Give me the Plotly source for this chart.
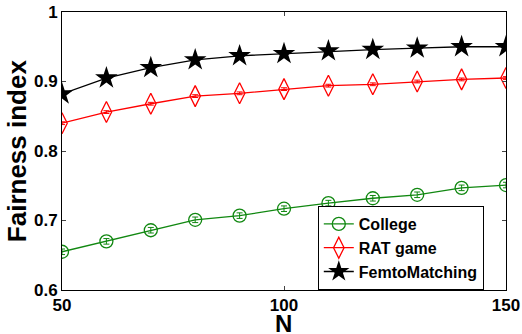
import plotly.graph_objects as go

N = [50, 60, 70, 80, 90, 100, 110, 120, 130, 140, 150]
college = [0.655, 0.670, 0.686, 0.701, 0.707, 0.717, 0.725, 0.732, 0.737, 0.747, 0.751]
college_err = [0.004] * 11
rat = [0.840, 0.856, 0.868, 0.879, 0.883, 0.889, 0.894, 0.896, 0.900, 0.903, 0.905]
rat_err = [0.002] * 11
femto = [0.882, 0.905, 0.920, 0.931, 0.937, 0.940, 0.944, 0.946, 0.948, 0.950, 0.950]

FONT = "Liberation Sans, Arial, sans-serif"

fig = go.Figure()
fig.add_trace(go.Scatter(
    x=N, y=college, name="College", mode="lines+markers",
    line=dict(color="#118811", width=1.3),
    marker=dict(symbol="circle-open", size=13, color="#118811", line=dict(width=1.3)),
    error_y=dict(type="data", array=college_err, color="#118811", thickness=1, width=3),
))
fig.add_trace(go.Scatter(
    x=N, y=rat, name="RAT game", mode="lines+markers",
    line=dict(color="#ff0000", width=1.3),
    marker=dict(symbol="diamond-tall-open", size=15, color="#ff0000", line=dict(width=1.3)),
    error_y=dict(type="data", array=rat_err, color="#ff0000", thickness=1, width=3),
))
fig.add_trace(go.Scatter(
    x=N, y=femto, name="FemtoMatching", mode="lines+markers",
    line=dict(color="#000000", width=1.3),
    marker=dict(symbol="star", size=17, color="#000000"),
))

fig.update_layout(
    width=522, height=334,
    margin=dict(l=62, r=16, t=12, b=44, autoexpand=False),
    paper_bgcolor="white", plot_bgcolor="white",
    font=dict(family=FONT, size=17, color="black", weight="bold"),
    showlegend=True,
    legend=dict(
        x=0.95, y=0.0, xanchor="right", yanchor="bottom",
        bordercolor="black", borderwidth=1, bgcolor="white",
        font=dict(family=FONT, size=16, color="black", weight="bold"),
        tracegroupgap=0, itemwidth=30,
    ),
    annotations=[
        dict(text="N", xref="paper", yref="paper", x=0.499, y=-0.065,
             xanchor="center", yanchor="top", showarrow=False,
             font=dict(family=FONT, size=24, weight="bold", color="black")),
        dict(text="Fairness index", xref="paper", yref="paper", x=-0.101, y=0.5,
             xanchor="center", yanchor="middle", textangle=-90, showarrow=False,
             font=dict(family=FONT, size=26, weight="bold", color="black")),
    ],
)
fig.update_xaxes(
    range=[50, 150], tickvals=[50, 100, 150], ticks="inside", ticklen=4,
    showline=True, linecolor="black", linewidth=1, mirror="ticks",
    showgrid=False, zeroline=False, automargin=False,
    tickfont=dict(family=FONT, size=17, weight="bold"),
)
fig.update_yaxes(
    range=[0.6, 1.0], tickvals=[0.6, 0.7, 0.8, 0.9, 1.0],
    ticktext=["0.6", "0.7", "0.8", "0.9", "1"],
    ticks="inside", ticklen=4,
    showline=True, linecolor="black", linewidth=1, mirror="ticks",
    showgrid=False, zeroline=False, automargin=False,
    tickfont=dict(family=FONT, size=17, weight="bold"),
)

fig.write_html(
    "out.html",
    config={"displayModeBar": False},
    post_script="document.body.style.margin='0';document.body.style.padding='0';",
)
